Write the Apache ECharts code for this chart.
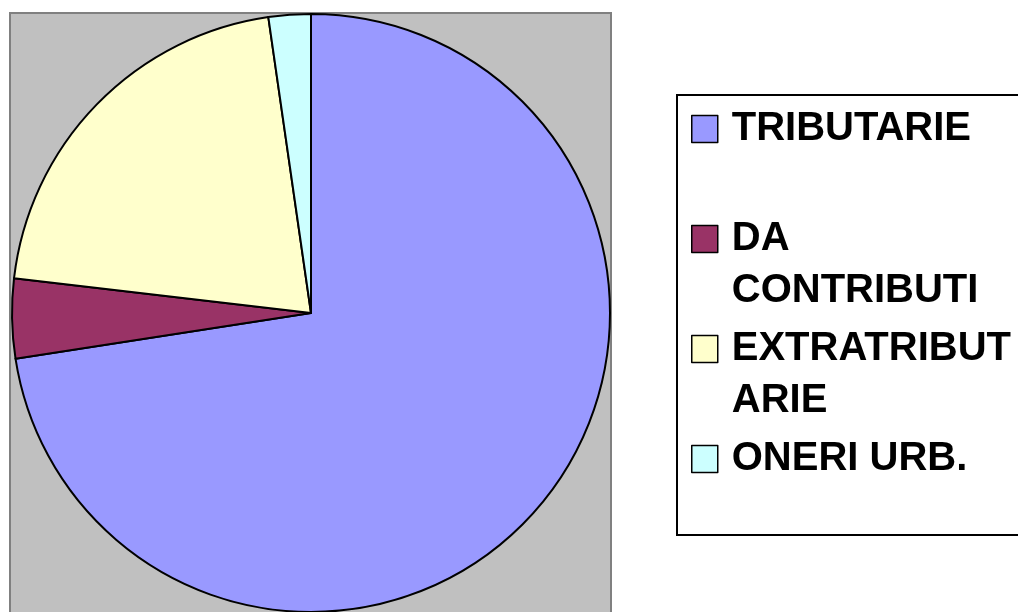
<!DOCTYPE html>
<html>
<head>
<meta charset="utf-8">
<script src="https://cdn.jsdelivr.net/npm/echarts@6/dist/echarts.min.js"></script>
<style>
html,body{margin:0;padding:0;background:#fff;}
#chart{width:1018px;height:612px;}
</style>
</head>
<body>
<div id="chart"></div>
<script>
// Data (percent shares)
var categories = ['TRIBUTARIE', 'DA CONTRIBUTI', 'EXTRATRIBUTARIE', 'ONERI URB.'];
var values = [72.56, 4.30, 20.86, 2.28];
var colors = ['#9999FF', '#993366', '#FFFFCC', '#CCFFFF'];
// Legend text as wrapped in the picture (leading blank line keeps the marker beside the first line)
var legendLabels = [' \nTRIBUTARIE\n ', ' \nDA\nCONTRIBUTI', ' \nEXTRATRIBUT\nARIE', ' \nONERI URB.\n '];

var chart = echarts.init(document.getElementById('chart'), null, {renderer: 'canvas'});

var pieData = categories.map(function (c, i) {
  return {name: c, value: values[i], itemStyle: {color: colors[i]}};
});

var option = {
  animation: false,
  backgroundColor: '#ffffff',
  graphic: [
    {
      type: 'rect', z: -10, silent: true,
      shape: {x: 10, y: 13, width: 601, height: 640},
      style: {fill: '#C0C0C0', stroke: '#808080', lineWidth: 2}
    },
    {
      type: 'rect', z: -10, silent: true,
      shape: {x: 677, y: 95, width: 400, height: 440},
      style: {fill: '#ffffff', stroke: '#000000', lineWidth: 2}
    }
  ],
  legend: {
    orient: 'vertical',
    left: 691,
    top: 51,
    padding: 0,
    itemGap: -46,
    itemWidth: 26,
    itemHeight: 27,
    icon: 'rect',
    selectedMode: false,
    data: categories,
    itemStyle: {borderColor: '#000000', borderWidth: 1.5},
    formatter: function (name) {
      return legendLabels[categories.indexOf(name)];
    },
    textStyle: {
      fontFamily: 'Liberation Sans, Arial, sans-serif',
      fontWeight: 'bold',
      fontSize: 40,
      lineHeight: 52,
      color: '#000000',
      padding: [0, 0, 0, 9]
    }
  },
  series: [{
    type: 'pie',
    center: [311, 313],
    radius: 299,
    startAngle: 90,
    clockwise: true,
    avoidLabelOverlap: false,
    label: {show: false},
    labelLine: {show: false},
    emphasis: {disabled: true},
    itemStyle: {borderColor: '#000000', borderWidth: 2},
    data: pieData
  }]
};
chart.setOption(option);
</script>
</body>
</html>
